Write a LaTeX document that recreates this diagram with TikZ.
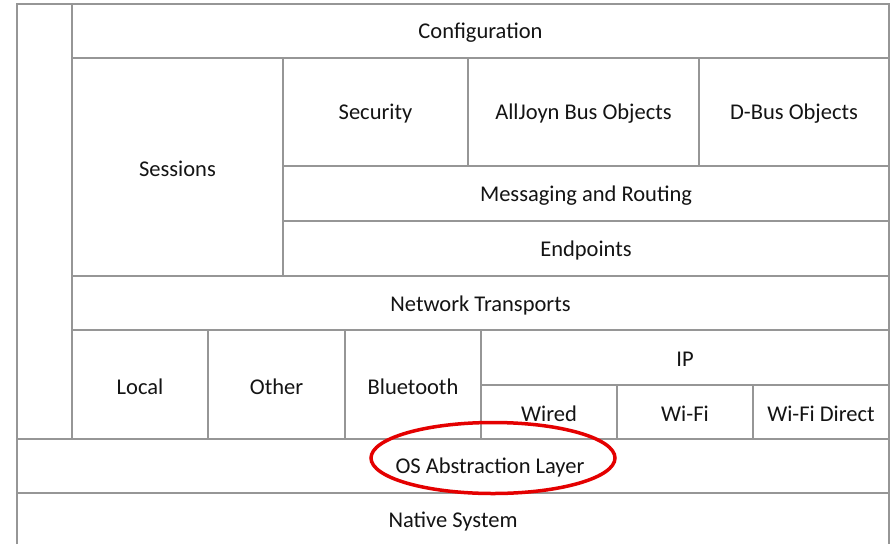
\documentclass[tikz,border=0pt]{standalone}
\usepackage{fontspec}
\setmainfont{Carlito}
\usetikzlibrary{fit,shapes.geometric}
\definecolor{linegray}{RGB}{150,150,150}
\definecolor{txt}{RGB}{20,20,20}
\definecolor{ringred}{RGB}{228,0,0}
\begin{document}
\begin{tikzpicture}[x=1pt,y=-1pt,
  cell/.style={draw=linegray, line width=1.5pt, inner sep=0pt},
  lbl/.style={text=txt, inner sep=0pt, font=\fontsize{22.5}{26}\selectfont},
  cap/.style={label={[lbl, yshift=-2pt]center:#1}}]
\useasboundingbox (0,0) rectangle (894,544);
\fill[white] (0,0) rectangle (894,544);
% outer frame
\coordinate (ol) at (17,544);
\coordinate (or) at (889,544);
\coordinate (otl) at (17,4);
\coordinate (otr) at (889,4);
\draw[linegray, line width=1.5pt] (ol) -- (otl) -- (otr) -- (or);
% rows
\node[cell, fit={(72,4) (889,58)}, cap=Configuration] (config) {};
\node[cell, fit={(72,58) (283,276)}, cap=Sessions] (sessions) {};
\node[cell, fit={(283,58) (468,166)}, cap=Security] (security) {};
\node[cell, fit={(468,58) (699,166)}, cap=AllJoyn Bus Objects] (alljoyn) {};
\node[cell, fit={(699,58) (889,166)}, cap=D-Bus Objects] (dbus) {};
\node[cell, fit={(283,166) (889,221)}, cap=Messaging and Routing] (msg) {};
\node[cell, fit={(283,221) (889,276)}, cap=Endpoints] (endpoints) {};
\node[cell, fit={(72,276) (889,330)}, cap=Network Transports] (transports) {};
\node[cell, fit={(72,330) (208,439)}, cap=Local] (local) {};
\node[cell, fit={(208,330) (345,439)}, cap=Other] (other) {};
\node[cell, fit={(345,330) (481,439)}, cap=Bluetooth] (bt) {};
\node[cell, fit={(481,330) (889,385)}, cap=IP] (ip) {};
\node[cell, fit={(481,385) (617,439)}, cap=Wired] (wired) {};
\node[cell, fit={(617,385) (753,439)}, cap=Wi-Fi] (wifi) {};
\node[cell, fit={(753,385) (889,439)}, cap=Wi-Fi Direct] (wifid) {};
\node[cell, fit={(17,439) (889,493)}] (osal) {};
\node[lbl] (osaltext) at (490,467) {OS Abstraction Layer};
\node[lbl] (native) at (453,522) {Native System};
% highlight ring
\node[ellipse, draw=ringred, line width=3.5pt, minimum width=244, minimum height=71, inner sep=0pt] (ring) at (493,458) {};
\end{tikzpicture}
\end{document}
